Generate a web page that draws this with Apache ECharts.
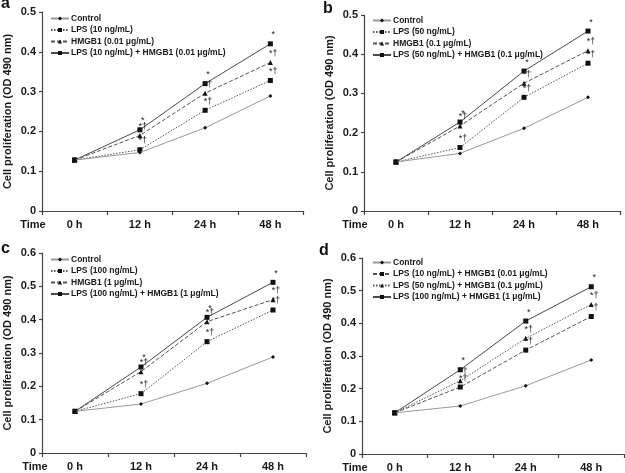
<!DOCTYPE html>
<html>
<head>
<meta charset="utf-8">
<script src="https://cdn.jsdelivr.net/npm/echarts@6/dist/echarts.min.js"></script>
<style>html,body{margin:0;padding:0;background:#fff}#c{width:625px;height:473px}</style>
</head>
<body>
<div id="c"></div>
<script>
// ---- data ----
var times = ['0 h', '12 h', '24 h', '48 h'];
var yTicksAB = [0, 0.1, 0.2, 0.3, 0.4, 0.5];
var yTicksCD = [0, 0.1, 0.2, 0.3, 0.4, 0.5, 0.6];

// panel a
var namesA = ['Control', 'LPS (10 ng/mL)', 'HMGB1 (0.01 μg/mL)', 'LPS (10 ng/mL) + HMGB1 (0.01 μg/mL)'];
var ctrlA  = [0.128, 0.147, 0.209, 0.289];
var lpsA   = [0.128, 0.154, 0.253, 0.328];
var hmgA   = [0.128, 0.190, 0.296, 0.373];
var comboA = [0.128, 0.204, 0.320, 0.420];

// panel b
var namesB = ['Control', 'LPS (50 ng/mL)', 'HMGB1 (0.1 μg/mL)', 'LPS (50 ng/mL) + HMGB1 (0.1 μg/mL)'];
var ctrlB  = [0.125, 0.147, 0.211, 0.290];
var lpsB   = [0.125, 0.162, 0.290, 0.377];
var hmgB   = [0.125, 0.217, 0.326, 0.409];
var comboB = [0.125, 0.227, 0.357, 0.459];

// panel c
var namesC = ['Control', 'LPS (100 ng/mL)', 'HMGB1 (1 μg/mL)', 'LPS (100 ng/mL) + HMGB1 (1 μg/mL)'];
var ctrlC  = [0.125, 0.147, 0.209, 0.288];
var lpsC   = [0.125, 0.178, 0.334, 0.429];
var hmgC   = [0.125, 0.244, 0.394, 0.460];
var comboC = [0.125, 0.258, 0.407, 0.512];

// panel d
var namesD = ['Control', 'LPS (10 ng/mL) + HMGB1 (0.01 μg/mL)', 'LPS (50 ng/mL) + HMGB1 (0.1 μg/mL)', 'LPS (100 ng/mL) + HMGB1 (1 μg/mL)'];
var ctrlD  = [0.126, 0.147, 0.209, 0.288];
var c10D   = [0.126, 0.205, 0.318, 0.421];
var c50D   = [0.126, 0.224, 0.354, 0.458];
var c100D  = [0.126, 0.258, 0.407, 0.512];

// significance marks
var noteNone = ['', '', '', ''];
var noteStar = ['', '*', '*', '*'];
var noteStarDag = ['', '*†', '*†', '*†'];

var panelLetters = ['a', 'b', 'c', 'd'];
var yTitle = 'Cell proliferation (OD 490 nm)';
var xTitle = 'Time';

// ---- styles ----
var FONT = 'Liberation Sans, Arial, sans-serif';
var TXT = '#1a1a1a';
var styles = {
  control: {line: {color: '#9a9a9a', width: 1, type: 'solid'}, symbol: 'diamond', size: 4},
  dotted:  {line: {color: '#555', width: 1, type: [1.5, 1.5]}, symbol: 'rect', size: 5},
  dashed:  {line: {color: '#555', width: 1, type: [4, 2]}, symbol: 'triangle', size: 5},
  dashedSq:{line: {color: '#555', width: 1, type: [4, 2]}, symbol: 'rect', size: 5},
  dottedTri:{line: {color: '#555', width: 1, type: [1.5, 1.5]}, symbol: 'triangle', size: 5},
  solid:   {line: {color: '#4a4a4a', width: 1, type: 'solid'}, symbol: 'rect', size: 5}
};

var grids = [
  {left: 42, top: 12, width: 261, height: 199},
  {left: 364, top: 15, width: 256, height: 196},
  {left: 42, top: 253, width: 264, height: 200},
  {left: 362, top: 258, width: 262, height: 196}
];
var yMax = [0.5, 0.5, 0.6, 0.6];
var legendPos = [
  {left: 50, top: 14},
  {left: 372, top: 16},
  {left: 50, top: 255},
  {left: 372, top: 258}
];
var timePos = [[33, 225], [355, 225], [35, 467], [355, 468]];
var letterPos = [[1, -4], [323, 1], [1, 241], [319, 243]];

var panels = [
  {names: namesA, data: [ctrlA, lpsA, hmgA, comboA], st: ['control', 'dotted', 'dashed', 'solid'], notes: [noteNone, noteStarDag, noteStarDag, noteStar], suffix: ''},
  {names: namesB, data: [ctrlB, lpsB, hmgB, comboB], st: ['control', 'dotted', 'dashed', 'solid'], notes: [noteNone, noteStarDag, noteStarDag, noteStar], suffix: '\u200B'},
  {names: namesC, data: [ctrlC, lpsC, hmgC, comboC], st: ['control', 'dotted', 'dashed', 'solid'], notes: [noteNone, noteStarDag, noteStarDag, noteStar], suffix: '\u200B\u200B'},
  {names: namesD, data: [ctrlD, c10D, c50D, c100D], st: ['control', 'dashedSq', 'dottedTri', 'solid'], notes: [noteNone, noteStarDag, noteStarDag, noteStar], suffix: '\u200B\u200B\u200B'}
];

var option = {
  animation: false,
  backgroundColor: '#fff',
  textStyle: {fontFamily: FONT},
  title: [], grid: [], xAxis: [], yAxis: [], legend: [], series: [], graphic: []
};

panels.forEach(function (p, i) {
  option.grid.push(Object.assign({containLabel: false}, grids[i]));
  option.xAxis.push({
    type: 'category', gridIndex: i, data: times, boundaryGap: true,
    axisLine: {lineStyle: {color: '#444', width: 1.2}},
    axisTick: {show: true, length: 4, lineStyle: {color: '#444', width: 1.2}, alignWithLabel: false},
    axisLabel: {color: TXT, fontSize: 11, fontWeight: 'bold', fontFamily: FONT, margin: 8},
    splitLine: {show: false}
  });
  option.yAxis.push({
    type: 'value', gridIndex: i, min: 0, max: yMax[i], interval: 0.1,
    name: yTitle, nameLocation: 'middle', nameGap: 29, nameRotate: 90,
    nameTextStyle: {color: TXT, fontSize: 11, fontWeight: 'bold', fontFamily: FONT},
    axisLine: {show: true, lineStyle: {color: '#444', width: 1.2}},
    axisTick: {show: true, length: 3, lineStyle: {color: '#444', width: 1.2}},
    axisLabel: {color: TXT, fontSize: 11, fontWeight: 'bold', fontFamily: FONT, margin: 6,
      formatter: function (v) { return v === 0 ? '0' : v.toFixed(1); }},
    splitLine: {show: false}
  });
  var legendNames = [];
  p.names.forEach(function (nm, k) {
    var s = styles[p.st[k]];
    var full = nm + p.suffix;
    legendNames.push(full);
    var notes = p.notes[k];
    option.series.push({
      type: 'line', name: full, xAxisIndex: i, yAxisIndex: i,
      data: p.data[k], symbol: s.symbol, symbolSize: s.size,
      itemStyle: {color: '#111'},
      lineStyle: s.line,
      z: 10 - k,
      label: {show: true, position: 'top', distance: 2, offset: [3, 0], color: '#222', fontSize: 9, fontFamily: FONT,
        formatter: function (q) { return notes[q.dataIndex]; }}
    });
  });
  option.legend.push({
    data: legendNames, orient: 'vertical', left: legendPos[i].left, top: legendPos[i].top,
    itemWidth: 18, itemHeight: 5, itemGap: 2.5, padding: 0,
    textStyle: {color: TXT, fontSize: 8.5, fontWeight: 'bold', fontFamily: FONT, padding: [0, 0, 0, -3]},
    selectedMode: false
  });
  option.title.push({text: panelLetters[i], left: letterPos[i][0], top: letterPos[i][1], padding: 0,
    textStyle: {color: '#111', fontSize: 16, fontWeight: 'bold', fontFamily: FONT}});
  option.graphic.push({type: 'text', x: timePos[i][0], y: timePos[i][1],
    style: {text: xTitle, fill: TXT, font: 'bold 11px ' + FONT, textAlign: 'center', textVerticalAlign: 'middle'}});
});

var chart = echarts.init(document.getElementById('c'), null, {renderer: 'canvas'});
chart.setOption(option);
</script>
</body>
</html>
